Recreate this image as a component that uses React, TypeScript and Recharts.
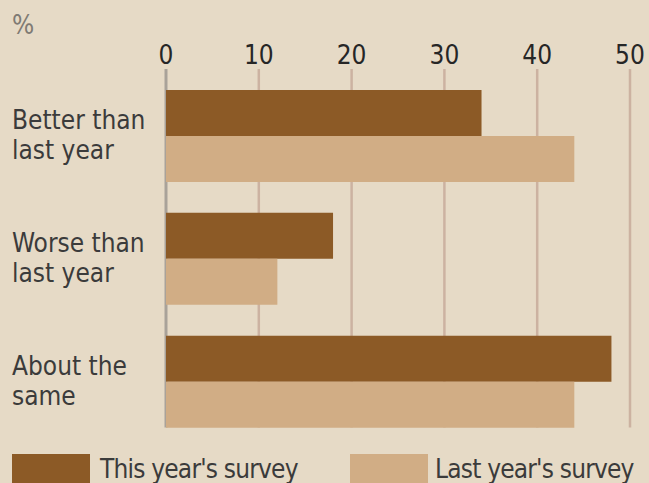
import { BarChart, Bar, XAxis, YAxis, CartesianGrid } from 'recharts';

// survey answers, % of respondents
const categories = ['Better than\nlast year', 'Worse than\nlast year', 'About the\nsame'];
const thisYear = [34, 18, 48];
const lastYear = [44, 12, 44];
const xTicks = [0, 10, 20, 30, 40, 50];

const seriesNames = ["This year's survey", "Last year's survey"];

const BG = '#E6DAC6';
const DARK = '#8C5A26';
const LIGHT = '#D1AD85';
const FONT = '"DejaVu Sans Condensed", "DejaVu Sans", sans-serif';

const data = categories.map((c, i) => ({ name: c, thisYear: thisYear[i], lastYear: lastYear[i] }));

function CategoryTick({ y, payload }: any) {
    const lines = String(payload.value).split('\n');
    return (
        <text x={12} y={y} fill="#3b3b3b" fontSize={26} fontFamily={FONT} style={{ fontStretch: 'condensed' }}>
            {lines.map((l, i) => (
                <tspan key={i} x={12} dy={i === 0 ? -7 : 30}>{l}</tspan>
            ))}
        </text>
    );
}

function GridLine(props: any) {
    const { x1, x2, y1, y2, index } = props;
    return (
        <line
            x1={x1}
            x2={x2}
            y1={y1 - 6}
            y2={y2 - 16}
            stroke={index === 0 ? '#A9A299' : '#CCB2A1'}
            strokeWidth={index === 0 ? 3 : 2.5}
        />
    );
}

export default function App() {
    return (
        <div
            style={{
                position: 'absolute',
                left: 0,
                top: 0,
                width: 649,
                height: 483,
                background: BG,
                overflow: 'hidden',
                fontFamily: FONT,
                fontStretch: 'condensed',
            }}
        >
            <div style={{ position: 'absolute', left: 12, top: 10, fontSize: 26, lineHeight: '30px', color: '#7f7a74' }}>%</div>

            <BarChart
                width={649}
                height={483}
                data={data}
                layout="vertical"
                margin={{ top: 35, right: 19, bottom: 39.5, left: 0 }}
                barGap={0}
            >
                <CartesianGrid horizontal={false} vertical={<GridLine />} />
                <XAxis
                    type="number"
                    orientation="top"
                    domain={[0, 50]}
                    ticks={xTicks}
                    height={40}
                    axisLine={false}
                    tickLine={false}
                    tickMargin={5}
                    tick={{ fill: '#262626', fontSize: 26, fontFamily: FONT, style: { fontStretch: 'condensed' } }}
                />
                <YAxis
                    type="category"
                    dataKey="name"
                    width={166}
                    axisLine={false}
                    tickLine={false}
                    tick={<CategoryTick />}
                />
                <Bar dataKey="thisYear" name={seriesNames[0]} fill={DARK} barSize={46} isAnimationActive={false} />
                <Bar dataKey="lastYear" name={seriesNames[1]} fill={LIGHT} barSize={46} isAnimationActive={false} />
            </BarChart>

            {/* Legend */}
            {seriesNames.map((s, i) => (
                <div
                    key={s}
                    style={{
                        position: 'absolute',
                        top: 454,
                        left: i === 0 ? 12 : 350,
                        display: 'flex',
                        alignItems: 'flex-start',
                        fontSize: 26,
                        lineHeight: '30px',
                        letterSpacing: -0.8,
                        color: '#3b3b3b',
                        whiteSpace: 'nowrap',
                    }}
                >
                    <span style={{ display: 'inline-block', width: 78, height: 40, background: i === 0 ? DARK : LIGHT }} />
                    <span style={{ marginLeft: i === 0 ? 10 : 7 }}>{s}</span>
                </div>
            ))}
        </div>
    );
}
